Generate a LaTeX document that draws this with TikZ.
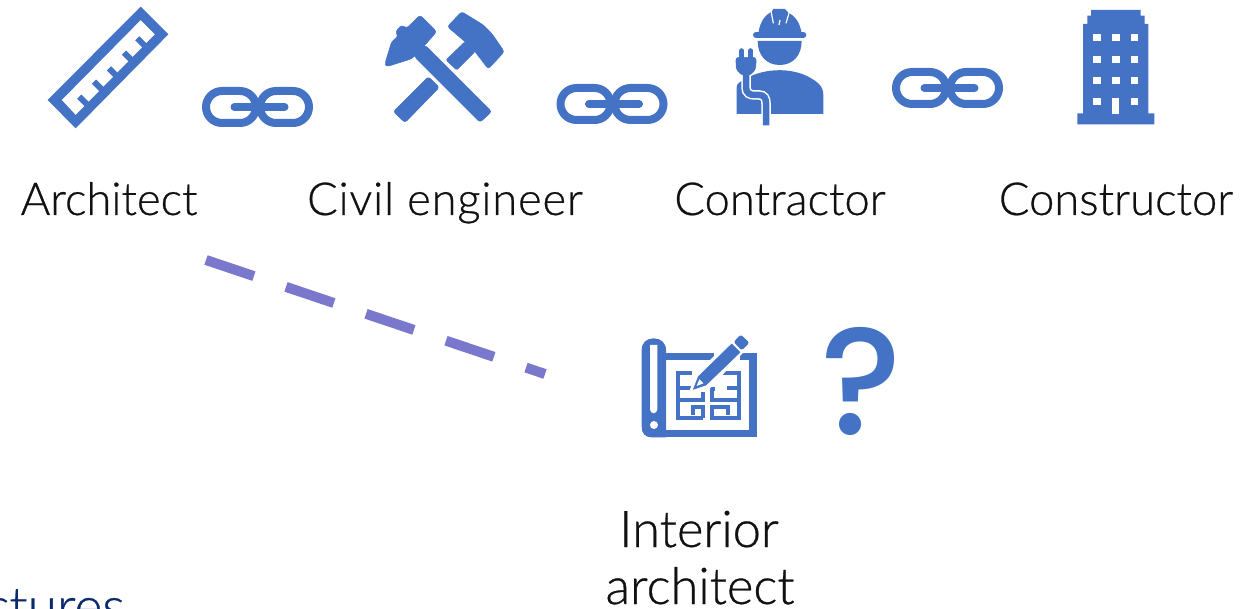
\documentclass[tikz,border=0pt]{standalone}
\usepackage{fontspec}
\setmainfont{Lato Light}[RawFeature={embolden=0.6}]
\newfontfamily\qfont{Poppins Medium}
\definecolor{iconblue}{HTML}{4472C4}
\definecolor{dashpurple}{HTML}{7A78CC}
\definecolor{labelink}{HTML}{111111}
\definecolor{navyink}{HTML}{0B2A6B}
\tikzset{
  px/.style={line width=#1*0.75pt},
  iconfill/.style={fill=iconblue,draw=iconblue,line width=0.4pt,line join=round},
  lab/.style={anchor=base,text=labelink,font=\fontsize{34}{38}\selectfont,inner sep=0pt},
  labbig/.style={lab,font=\fontsize{38}{40}\selectfont},
  zoomed/.style={shift={(#1)},scale=1/3},
  chainring/.style={draw=iconblue,px=8,rounded corners=16*0.75pt},
  chainbar/.style={draw=iconblue,px=8,line cap=round},
  chain/.pic={
    \draw[chainring] (-51.5,-16) rectangle (-1.5,16);
    \draw[chainring] (2.5,-16) rectangle (51.5,16);
    \draw[chainbar] (-23,0) -- (27,0);
  }
}
\begin{document}
\begin{tikzpicture}[x=0.75pt,y=-0.75pt]
\useasboundingbox (0,0) rectangle (1252,609);
\clip (0,0) rectangle (1252,609);
% ruler
\begin{scope}[zoomed={30,0}]
  \fill[iconblue,even odd rule] (332,20) -- (415,103) -- (137,385) -- (53,300) -- cycle
     (332,60) -- (95,300) -- (137,345) -- (375,103) -- cycle;
  \foreach \tx/\ty in {148/290,192/245,237/205,282/158,322/115}
    \draw[iconblue,px=6] (\tx,\ty) -- ++(26,26);
\end{scope}
% hammers
\begin{scope}[zoomed={370,0}]
  \fill[iconfill,rounded corners=2pt] (165,135) -- (365,335) -- (330,367) -- (133,170) -- cycle;
  \fill[iconfill,rounded corners=2pt] (150,45) -- (200,95) -- (165,135) -- (133,170) -- (120,178) -- (50,200) -- (45,190) -- (65,125) -- (85,108) -- (76,96) -- (95,75) -- (110,85) -- cycle;
  \fill[iconfill,rounded corners=2pt] (70,335) -- (175,230) -- (208,262) -- (105,368) -- cycle;
  \fill[iconfill,rounded corners=1pt] (228,180) -- (285,125) -- (315,155) -- (260,210) -- cycle;
  \fill[iconfill,rounded corners=2pt] (275,35) -- (340,75) -- (365,100) -- (403,155) -- (355,207) -- (315,155) -- (285,125) -- (232,80) -- cycle;
\end{scope}
% worker
\begin{scope}[zoomed={720,0}]
  \fill[iconblue] (115,100) .. controls (120,65) and (135,45) .. (155,35) -- (160,27) -- (195,27) -- (205,38) .. controls (228,50) and (240,70) .. (245,100) -- cycle;
  \draw[white,px=1.2] (153,33) -- (160,70) (208,36) -- (198,70) (180,60) -- (177,75);
  \draw[iconblue,px=6,line cap=round] (108,105) -- (250,105);
  \fill[iconblue] (113,123) -- (245,123) .. controls (245,165) and (220,195) .. (179,195) .. controls (138,195) and (113,165) .. (113,123) -- cycle;
  \fill[iconblue] (50,342) -- (50,262) .. controls (50,250) and (60,245) .. (80,235) .. controls (130,205) and (230,195) .. (295,250) .. controls (305,260) and (310,270) .. (310,285) -- (310,342) -- cycle;
  \draw[white,px=9.5] (78,205) -- (78,262) .. controls (78,280) and (90,285) .. (105,285) -- (118,285) .. controls (132,285) and (138,295) .. (138,310) -- (138,376);
  \draw[iconblue,px=6.5] (78,205) -- (78,262) .. controls (78,280) and (90,285) .. (105,285) -- (118,285) .. controls (132,285) and (138,295) .. (138,310) -- (138,376);
  \fill[iconfill,rounded corners=2pt] (48,172) -- (108,172) -- (108,195) .. controls (105,215) and (90,225) .. (78,225) .. controls (66,225) and (50,215) .. (48,195) -- cycle;
  \draw[iconblue,px=5.5,line cap=round] (65,153) -- (65,175) (92,153) -- (92,175);
\end{scope}
% building
\begin{scope}[zoomed={1060,0}]
  \fill[iconblue] (93,30) -- (242,30) -- (242,47) -- (254,47) -- (254,72) -- (265,72) -- (265,340) -- (283,340) -- (283,373) -- (52,373) -- (52,340) -- (69,340) -- (69,72) -- (82,72) -- (82,47) -- (93,47) -- cycle;
  \foreach \wx in {100,157,213}
    \foreach \wy in {103,167,232}
      \fill[white] (\wx,\wy) rectangle ++(22,21);
  \fill[white] (100,295) rectangle ++(22,21);
  \fill[white] (213,295) rectangle ++(22,21);
  \fill[white] (157,295) rectangle ++(21,46);
\end{scope}
% blueprint
\begin{scope}[zoomed={630,320}]
  \draw[iconblue,px=7.5,line join=miter] (251,109) -- (96,109) -- (96,341) -- (369,341) -- (369,109) -- (330,109);
  \fill[iconblue] (35,320) -- (35,90) .. controls (35,68) and (50,55) .. (71,55) .. controls (92,55) and (108,68) .. (108,90) -- (108,352) -- (65,352) .. controls (45,352) and (35,340) .. (35,320) -- cycle;
  \fill[white,rounded corners=3pt] (60,280) -- (60,88) .. controls (60,80) and (66,75) .. (71,75) .. controls (76,75) and (82,80) .. (82,88) -- (82,280) -- cycle;
  \fill[white] (72,315) circle[radius=12];
  \draw[iconblue,px=4] (185,160) -- (143,160) -- (143,295) -- (218,295) (218,295) -- (218,262) -- (190,262) -- (190,285) (143,205) -- (190,205) (143,240) -- (218,240) -- (218,215);
  \draw[iconblue,px=4] (255,160) -- (327,160) -- (327,295) -- (247,295) -- (247,262) -- (295,262) -- (295,285) (327,205) -- (290,205) (327,240) -- (247,240) -- (247,208) -- (255,208);
  \fill[white] (178,214) -- (195,165) -- (320,40) -- (370,65) -- (240,205) -- cycle;
  \fill[iconfill] (190,208) -- (205,170) -- (305,72) -- (330,97) -- (228,195) -- cycle;
  \fill[white] (200,198) -- (208,178) -- (220,190) -- cycle;
  \fill[iconfill,rounded corners=1.5pt] (312,66) -- (332,45) -- (357,68) -- (335,90) -- cycle;
\end{scope}
% question mark
\node[anchor=base,inner sep=0pt,text=iconblue,font=\qfont\fontsize{114}{114}\selectfont] (qmark) at (861,434) {?};
% chains
\pic at (257.5,107) {chain};
\pic at (612,104) {chain};
\pic at (947.5,88) {chain};
% labels
\node[lab] (architect) at (109,215) {Architect};
\node[lab] (civil) at (445,215) {\addfontfeature{LetterSpace=1.8}Civil engineer};
\node[lab] (contractor) at (780,215) {Contractor};
\node[lab] (constructor) at (1116,215) {Constructor};
\node[labbig] (interior1) at (699,547) {Interior};
\node[labbig] (interior2) at (700,604) {architect};
\node[labbig,anchor=base east,text=navyink,font=\fontsize{40}{42}\selectfont] (lectures) at (125,625) {ctures};
% dashed relation
\coordinate (dashstart) at (206,260);
\coordinate (dashend) at (545,374);
\draw[dashpurple,px=10,dash pattern=on 37.9pt off 25.4pt] (dashstart) -- (dashend);
\end{tikzpicture}
\end{document}
